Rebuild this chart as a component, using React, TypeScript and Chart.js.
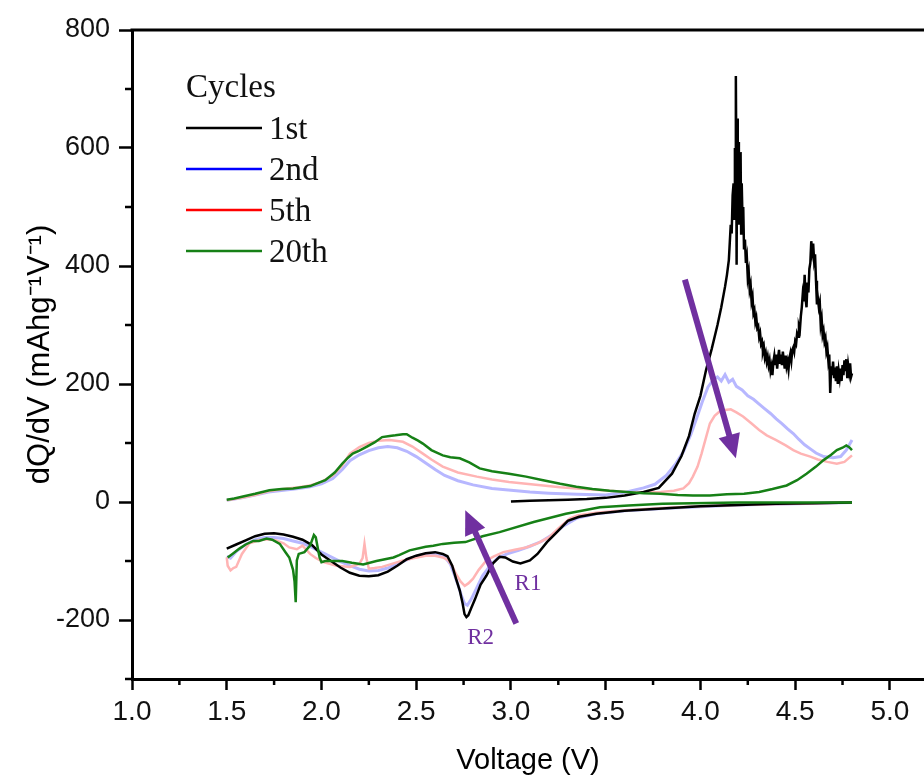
import React, { useEffect, useRef } from 'react';
import { Chart, registerables } from 'chart.js';

Chart.register(...registerables);

const SANS = '"Liberation Sans", Arial, Helvetica, sans-serif';
const SERIF = '"Liberation Serif", "Times New Roman", serif';

// ---------- labels, colours, ticks ----------
const cycleLabels = ['1st', '2nd', '5th', '20th'];
const lineColors = ['#000000', '#b7b7ff', '#ffb4b4', '#168016'];
const lineWidths = [2.5, 3, 2.5, 2.5];
const legendColors = ['#000000', '#0000ff', '#ff0000', '#168016'];
const drawOrder = [1, 3, 2, 0];
const legendTitle = 'Cycles';
const xTitle = 'Voltage (V)';
const yTitle = 'dQ/dV (mAhg\u207B\u00B9V\u207B\u00B9)';
const xTickValues = [1.0, 1.5, 2.0, 2.5, 3.0, 3.5, 4.0, 4.5, 5.0];
const xMinorTicks = [1.25, 1.75, 2.25, 2.75, 3.25, 3.75, 4.25, 4.75];
const yTickValues = [-200, 0, 200, 400, 600, 800];
const yMinorTicks = [-300, -100, 100, 300, 500, 700];

// ---------- 1st cycle ----------
const c1ChargeV = [
  3.00, 3.10, 3.20, 3.30, 3.40, 3.50, 3.60, 3.70, 3.78, 3.85, 3.90, 3.94, 3.97, 4.00, 4.03, 4.06, 4.09, 4.11,
  4.13, 4.14, 4.15, 4.155, 4.16, 4.165, 4.17, 4.175, 4.178, 4.182,
  4.185, 4.187, 4.189, 4.191, 4.194, 4.197, 4.20, 4.203, 4.206, 4.209,
  4.212, 4.215, 4.218, 4.222, 4.226, 4.23, 4.235, 4.24, 4.245, 4.25,
  4.255, 4.26, 4.265, 4.27, 4.275, 4.28, 4.285, 4.29, 4.295, 4.30,
  4.305, 4.31, 4.315, 4.32, 4.325, 4.33, 4.335, 4.34, 4.345, 4.35,
  4.355, 4.36, 4.365, 4.37, 4.375, 4.38, 4.385, 4.39, 4.395, 4.40,
  4.405, 4.41, 4.415, 4.42, 4.425, 4.43, 4.435, 4.44, 4.445, 4.45,
  4.455, 4.46, 4.465, 4.47, 4.475, 4.48, 4.485, 4.49, 4.495, 4.50,
  4.505, 4.51, 4.515, 4.52, 4.525, 4.53, 4.535, 4.54, 4.545, 4.55,
  4.555, 4.56, 4.565, 4.57, 4.575, 4.58, 4.585, 4.59, 4.595, 4.60,
  4.605, 4.61, 4.615, 4.62, 4.625, 4.63, 4.635, 4.64, 4.645, 4.65,
  4.655, 4.66, 4.665, 4.67, 4.675, 4.68, 4.685, 4.69, 4.695, 4.70,
  4.705, 4.71, 4.715, 4.72, 4.725, 4.73, 4.735, 4.74, 4.745, 4.75,
  4.755, 4.76, 4.765, 4.77, 4.775, 4.78, 4.785, 4.79, 4.795, 4.80,
];
const c1ChargeQ = [
  1, 2, 3, 4, 5, 7, 11, 17, 24, 48, 78, 112, 150, 180, 224, 260, 300, 330,
  365, 385, 410, 440, 470, 455, 520, 540, 480, 600,
  560, 722, 600, 402, 650, 540, 610, 470, 590, 520,
  593, 455, 540, 480, 500, 430, 445, 405, 415, 380,
  390, 360, 368, 340, 348, 320, 325, 305, 312, 295,
  298, 280, 286, 268, 272, 255, 262, 245, 252, 238,
  246, 232, 240, 222, 230, 215, 238, 248, 232, 250,
  226, 245, 258, 236, 250, 232, 255, 240, 226, 248,
  230, 238, 225, 244, 252, 240, 258, 262, 255, 272,
  268, 285, 280, 298, 292, 315, 330, 352, 340, 385,
  345, 330, 372, 355, 395, 405, 442, 425, 438, 410,
  420, 375, 335, 345, 330, 338, 300, 310, 283, 290,
  272, 278, 255, 262, 240, 250, 185, 230, 215, 238,
  212, 228, 205, 230, 200, 222, 210, 226, 205, 232,
  215, 240, 222, 242, 210, 232, 220, 235, 212, 218,
];
const c1DischargeV = [4.80, 4.60, 4.40, 4.20, 4.00, 3.80, 3.60, 3.45, 3.36, 3.30, 3.24, 3.19, 3.14, 3.10, 3.05, 3.01, 2.97, 2.94, 2.905, 2.87, 2.84, 2.81, 2.79, 2.775, 2.765, 2.755, 2.745, 2.73, 2.71, 2.69, 2.665, 2.64, 2.60, 2.55, 2.50, 2.45, 2.40, 2.35, 2.30, 2.25, 2.20, 2.15, 2.10, 2.05, 2.00, 1.95, 1.90, 1.85, 1.80, 1.75, 1.70, 1.65, 1.60, 1.55, 1.50];
const c1DischargeQ = [-1, -2, -3, -5, -7, -11, -15, -20, -25, -32, -52, -68, -88, -99, -104, -101, -94, -93, -104, -125, -140, -165, -180, -192, -195, -190, -172, -150, -130, -108, -92, -88, -85, -87, -91, -97, -108, -118, -124, -126, -125, -120, -111, -100, -89, -73, -64, -59, -55, -53, -54, -58, -65, -72, -79];

// ---------- 2nd cycle ----------
const c2ChargeV = [1.50, 1.58, 1.65, 1.72, 1.80, 1.88, 1.94, 2.00, 2.06, 2.11, 2.15, 2.20, 2.25, 2.30, 2.35, 2.40, 2.45, 2.50, 2.55, 2.60, 2.65, 2.72, 2.80, 2.90, 3.00, 3.10, 3.20, 3.35, 3.50, 3.61, 3.70, 3.76, 3.82, 3.87, 3.91, 3.95, 3.98, 4.01, 4.04, 4.07, 4.09, 4.11, 4.13, 4.15, 4.17, 4.19, 4.22, 4.25, 4.28, 4.31, 4.34, 4.37, 4.40, 4.43, 4.46, 4.49, 4.52, 4.55, 4.58, 4.61, 4.65, 4.70, 4.74, 4.77, 4.80];
const c2ChargeQ = [3, 7, 12, 17, 20, 23, 26, 31, 40, 55, 70, 80, 87, 92, 94, 92, 86, 77, 66, 55, 45, 36, 29, 23, 20, 17, 15, 13, 12, 17, 24, 30, 45, 65, 85, 115, 142, 170, 195, 208, 212, 205, 216, 203, 208, 196, 190, 180, 174, 166, 158, 150, 141, 133, 124, 116, 106, 97, 90, 83, 77, 75, 77, 88, 105];
const c2DischargeV = [4.80, 4.50, 4.20, 4.00, 3.80, 3.60, 3.45, 3.35, 3.28, 3.22, 3.16, 3.10, 3.04, 2.98, 2.93, 2.89, 2.85, 2.82, 2.79, 2.77, 2.755, 2.74, 2.72, 2.70, 2.68, 2.65, 2.60, 2.55, 2.50, 2.45, 2.40, 2.35, 2.30, 2.25, 2.20, 2.15, 2.10, 2.05, 2.00, 1.95, 1.90, 1.85, 1.80, 1.75, 1.70, 1.65, 1.60, 1.55, 1.52, 1.50];
const c2DischargeQ = [-1, -3, -5, -8, -11, -15, -20, -27, -40, -55, -67, -75, -82, -88, -95, -108, -125, -145, -165, -175, -172, -160, -140, -122, -105, -93, -87, -88, -92, -98, -105, -112, -116, -117, -114, -108, -101, -93, -85, -77, -70, -66, -62, -60, -60, -64, -72, -84, -95, -92];

// ---------- 5th cycle ----------
const c5ChargeV = [1.50, 1.58, 1.65, 1.72, 1.80, 1.88, 1.94, 2.00, 2.06, 2.11, 2.15, 2.20, 2.25, 2.30, 2.36, 2.43, 2.48, 2.535, 2.58, 2.64, 2.72, 2.82, 2.90, 2.99, 3.08, 3.17, 3.26, 3.345, 3.43, 3.52, 3.61, 3.70, 3.79, 3.86, 3.91, 3.94, 3.96, 3.985, 4.006, 4.03, 4.05, 4.075, 4.10, 4.13, 4.16, 4.19, 4.225, 4.27, 4.31, 4.35, 4.40, 4.45, 4.49, 4.53, 4.58, 4.62, 4.67, 4.72, 4.76, 4.80];
const c5ChargeQ = [3, 7, 12, 18, 22, 25, 28, 34, 45, 62, 82, 93, 100, 104, 105, 102, 94, 82, 72, 60, 50, 43, 38, 34, 31, 28, 25, 23, 21, 19, 17, 16, 17, 19, 23, 32, 43, 60, 82, 110, 133, 146, 153, 156, 157, 152, 145, 133, 122, 113, 105, 96, 88, 82, 77, 72, 68, 65, 68, 79];
const c5DischargeV = [4.80, 4.50, 4.20, 4.00, 3.80, 3.60, 3.45, 3.35, 3.31, 3.25, 3.20, 3.14, 3.08, 3.02, 2.96, 2.91, 2.87, 2.83, 2.80, 2.775, 2.756, 2.735, 2.71, 2.69, 2.665, 2.64, 2.60, 2.55, 2.49, 2.43, 2.38, 2.32, 2.28, 2.25, 2.237, 2.227, 2.217, 2.20, 2.15, 2.08, 2.01, 1.97, 1.94, 1.90, 1.87, 1.83, 1.80, 1.76, 1.72, 1.67, 1.62, 1.58, 1.55, 1.535, 1.52, 1.505, 1.50];
const c5DischargeQ = [-1, -3, -5, -7, -10, -14, -18, -23, -28, -45, -60, -70, -77, -81, -85, -92, -99, -115, -130, -138, -142, -135, -122, -108, -98, -94, -91, -91, -95, -99, -104, -110, -112, -113, -95, -71, -95, -105, -110, -108, -102, -95, -88, -74, -80, -77, -70, -65, -63, -65, -70, -88, -110, -112, -116, -108, -94];

// ---------- 20th cycle ----------
const c20ChargeV = [1.50, 1.54, 1.58, 1.65, 1.725, 1.79, 1.85, 1.94, 2.02, 2.07, 2.11, 2.14, 2.165, 2.20, 2.24, 2.28, 2.32, 2.36, 2.39, 2.43, 2.45, 2.48, 2.51, 2.535, 2.58, 2.64, 2.68, 2.73, 2.78, 2.835, 2.90, 2.99, 3.08, 3.17, 3.26, 3.345, 3.43, 3.52, 3.61, 3.70, 3.79, 3.88, 3.96, 4.05, 4.14, 4.23, 4.31, 4.38, 4.455, 4.51, 4.56, 4.61, 4.65, 4.69, 4.72, 4.75, 4.77, 4.785, 4.80];
const c20ChargeQ = [4, 6, 9, 14, 20, 22, 23, 27, 37, 50, 65, 75, 82, 87, 94, 101, 110, 112, 113, 115, 115, 109, 104, 99, 88, 79, 76, 74, 67, 57, 52, 48, 43, 37, 31, 26, 22, 19, 17, 15, 14, 12, 11, 11, 13, 14, 17, 22, 28, 37, 48, 60, 71, 80, 88, 92, 96, 93, 88];
const c20DischargeV = [4.80, 4.50, 4.20, 3.96, 3.80, 3.62, 3.47, 3.29, 3.12, 2.94, 2.85, 2.76, 2.70, 2.64, 2.59, 2.55, 2.465, 2.41, 2.38, 2.29, 2.22, 2.16, 2.11, 2.06, 2.02, 2.00, 1.99, 1.98, 1.97, 1.96, 1.94, 1.91, 1.88, 1.87, 1.864, 1.858, 1.85, 1.83, 1.81, 1.78, 1.74, 1.71, 1.67, 1.64, 1.60, 1.567, 1.53, 1.505];
const c20DischargeQ = [-1, -1, -1, -2, -3, -6, -9, -20, -34, -51, -58, -68, -69, -71, -74, -76, -82, -90, -94, -100, -106, -103, -100, -100, -100, -102, -94, -77, -60, -56, -74, -85, -88, -99, -170, -135, -115, -94, -85, -71, -64, -62, -66, -66, -72, -79, -88, -94];

// ---------- annotations (data coordinates) ----------
const arrowTails = [{ x: 3.918, y: 377 }, { x: 3.028, y: -206 }];
const arrowTips = [{ x: 4.187, y: 74 }, { x: 2.759, y: -14 }];
const noteTexts = ['R1', 'R2'];
const notePoints = [{ x: 3.09, y: -139 }, { x: 2.84, y: -231 }];
const noteColor = '#7030a0';

const cycles = [
  { cv: c1ChargeV, cq: c1ChargeQ, dv: c1DischargeV, dq: c1DischargeQ },
  { cv: c2ChargeV, cq: c2ChargeQ, dv: c2DischargeV, dq: c2DischargeQ },
  { cv: c5ChargeV, cq: c5ChargeQ, dv: c5DischargeV, dq: c5DischargeQ },
  { cv: c20ChargeV, cq: c20ChargeQ, dv: c20DischargeV, dq: c20DischargeQ },
];

function toPoints(vs: number[], qs: number[]) {
  return vs.map((v, i) => ({ x: v, y: qs[i] }));
}

function drawArrow(ctx: CanvasRenderingContext2D, x1: number, y1: number, x2: number, y2: number, color: string) {
  const ang = Math.atan2(y2 - y1, x2 - x1);
  const headLen = 24;
  const headW = 11;
  const bx = x2 - headLen * Math.cos(ang);
  const by = y2 - headLen * Math.sin(ang);
  ctx.strokeStyle = color;
  ctx.fillStyle = color;
  ctx.lineWidth = 6;
  ctx.lineCap = 'butt';
  ctx.beginPath();
  ctx.moveTo(x1, y1);
  ctx.lineTo(bx + 2 * Math.cos(ang), by + 2 * Math.sin(ang));
  ctx.stroke();
  ctx.beginPath();
  ctx.moveTo(x2, y2);
  ctx.lineTo(bx + headW * Math.sin(ang), by - headW * Math.cos(ang));
  ctx.lineTo(bx - headW * Math.sin(ang), by + headW * Math.cos(ang));
  ctx.closePath();
  ctx.fill();
}

const decorPlugin = {
  id: 'decor',
  afterDatasetsDraw(chart: any) {
    const { ctx, scales } = chart;
    const xs = scales.x;
    const ys = scales.y;
    ctx.save();
    arrowTails.forEach((t, i) => {
      const h = arrowTips[i];
      drawArrow(ctx, xs.getPixelForValue(t.x), ys.getPixelForValue(t.y), xs.getPixelForValue(h.x), ys.getPixelForValue(h.y), noteColor);
    });
    ctx.font = `23px ${SERIF}`;
    ctx.fillStyle = noteColor;
    ctx.textAlign = 'center';
    ctx.textBaseline = 'middle';
    noteTexts.forEach((t, i) => {
      ctx.fillText(t, xs.getPixelForValue(notePoints[i].x), ys.getPixelForValue(notePoints[i].y));
    });
    ctx.restore();
  },
  afterDraw(chart: any) {
    const { ctx, chartArea, scales } = chart;
    const xs = scales.x;
    const ys = scales.y;
    ctx.save();
    // top frame line
    ctx.strokeStyle = '#000';
    ctx.lineWidth = 3;
    ctx.beginPath();
    ctx.moveTo(chartArea.left - 1.5, chartArea.top);
    ctx.lineTo(chartArea.right, chartArea.top);
    ctx.stroke();
    // minor ticks
    ctx.lineWidth = 2.5;
    ctx.beginPath();
    xMinorTicks.forEach((v) => {
      const px = xs.getPixelForValue(v);
      ctx.moveTo(px, chartArea.bottom);
      ctx.lineTo(px, chartArea.bottom + 6);
    });
    yMinorTicks.forEach((v) => {
      const py = ys.getPixelForValue(v);
      ctx.moveTo(chartArea.left, py);
      ctx.lineTo(chartArea.left - 7, py);
    });
    ctx.stroke();
    // legend
    const lx = chartArea.left + 54;
    ctx.font = `33px ${SERIF}`;
    ctx.fillStyle = '#111';
    ctx.textAlign = 'left';
    ctx.textBaseline = 'alphabetic';
    ctx.fillText(legendTitle, lx, chartArea.top + 67);
    chart.data.datasets.forEach((ds: any, i: number) => {
      const y = chartArea.top + 98 + i * 41;
      ctx.strokeStyle = legendColors[i];
      ctx.lineWidth = 2.5;
      ctx.beginPath();
      ctx.moveTo(lx, y);
      ctx.lineTo(lx + 76, y);
      ctx.stroke();
      ctx.fillText(ds.label, lx + 83, y + 11);
    });
    ctx.restore();
  },
};

function DQDVChart() {
  const canvasRef = useRef<HTMLCanvasElement | null>(null);

  useEffect(() => {
    if (!canvasRef.current) return;
    const datasets = cycles.map((c, i) => ({
      label: cycleLabels[i],
      data: [...toPoints(c.cv, c.cq), { x: c.cv[c.cv.length - 1], y: null }, ...toPoints(c.dv, c.dq)],
      borderColor: lineColors[i],
      backgroundColor: lineColors[i],
      borderWidth: lineWidths[i],
      pointRadius: 0,
      tension: 0,
      fill: false,
      spanGaps: false,
      order: drawOrder[i],
    }));

    const chart = new Chart(canvasRef.current, {
      type: 'line',
      data: { datasets: datasets as any },
      options: {
        animation: false,
        responsive: false,
        devicePixelRatio: 1,
        layout: { padding: { top: 30, left: 0, right: 0, bottom: 0 } },
        plugins: { legend: { display: false }, tooltip: { enabled: false } },
        scales: {
          x: {
            type: 'linear',
            min: 1,
            max: 5.18,
            afterBuildTicks: (s: any) => { s.ticks = xTickValues.map((v) => ({ value: v })); },
            afterFit: (s: any) => { s.height = 99; },
            grid: { display: true, drawOnChartArea: false, drawTicks: true, tickLength: 11, tickWidth: 2.5, tickColor: '#000' },
            border: { display: true, color: '#000', width: 3 },
            ticks: {
              autoSkip: false,
              maxRotation: 0,
              padding: 5,
              color: '#111',
              font: { family: SANS, size: 28 },
              callback: (v: any) => Number(v).toFixed(1),
            },
            title: {
              display: true,
              text: xTitle,
              color: '#000',
              font: { family: SANS, size: 29 },
              padding: { top: 0, bottom: 0 },
            },
          },
          y: {
            type: 'linear',
            min: -300,
            max: 800,
            afterBuildTicks: (s: any) => { s.ticks = yTickValues.map((v) => ({ value: v })); },
            afterFit: (s: any) => { s.width = 132; },
            grid: { display: true, drawOnChartArea: false, drawTicks: true, tickLength: 13, tickWidth: 2.5, tickColor: '#000' },
            border: { display: true, color: '#000', width: 3 },
            ticks: {
              autoSkip: false,
              padding: 9,
              color: '#111',
              font: { family: SANS, size: 27 },
              callback: (v: any) => String(v),
            },
            title: {
              display: true,
              text: yTitle,
              color: '#000',
              font: { family: SANS, size: 31 },
              padding: { top: 22, bottom: 0 },
            },
          },
        },
      },
      plugins: [decorPlugin],
    });
    return () => chart.destroy();
  }, []);

  return (
    <div style={{ position: 'absolute', left: 0, top: 0, width: 924, height: 778, background: '#fff' }}>
      <canvas ref={canvasRef} width={924} height={778} />
    </div>
  );
}

export default function App() {
  return <DQDVChart />;
}
